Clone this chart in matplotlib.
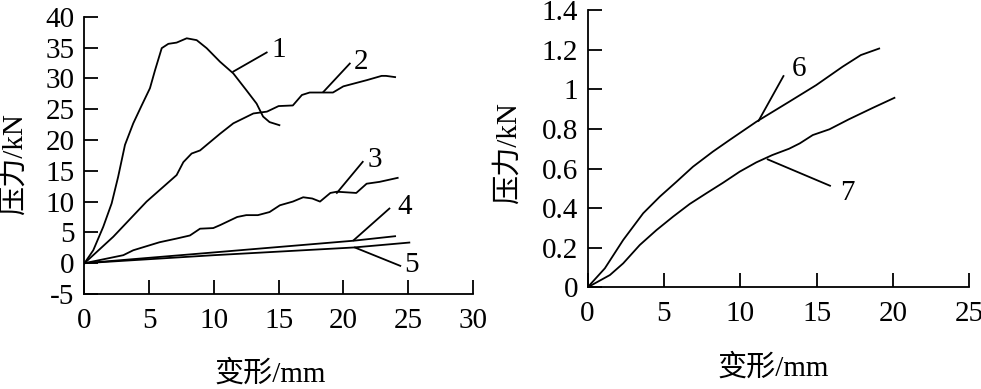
"""Two-panel load-deformation curves (压力 vs 变形)."""

import matplotlib

matplotlib.use("Agg")
import matplotlib.pyplot as plt
from matplotlib.ticker import FuncFormatter

plt.rcParams["font.family"] = ["Liberation Serif", "Noto Sans CJK SC"]
plt.rcParams["axes.unicode_minus"] = False

# --- left panel data (deformation mm, load kN) ---
c1_x = [0, 0.68, 1.45, 2.1, 2.6, 3.13, 3.77, 4.42, 5.06, 5.45, 5.97, 6.48, 7.12,
        7.9, 8.67, 9.44, 10.47, 11.5, 12.5, 13.3, 13.8, 14.3, 15.06]
c1_y = [0, 2.1, 5.9, 9.7, 14.0, 19.2, 22.7, 25.6, 28.4, 31.3, 34.9, 35.6, 35.8,
        36.5, 36.2, 34.9, 32.7, 30.8, 28.1, 25.9, 23.8, 22.9, 22.4]
c2_x = [0, 2.23, 4.8, 7.12, 7.64, 8.28, 8.93, 10.47, 11.5, 13.05, 14.1, 15.0,
        16.1, 16.8, 17.4, 19.2, 20.0, 21.8, 22.96, 23.3, 24.0]
c2_y = [0, 4.3, 10.0, 14.3, 16.4, 17.8, 18.3, 21.0, 22.7, 24.3, 24.6, 25.5,
        25.6, 27.3, 27.7, 27.7, 28.7, 29.7, 30.4, 30.4, 30.2]
c3_x = [0, 3.0, 3.77, 4.8, 5.8, 7.12, 8.15, 8.93, 9.95, 10.5, 11.8, 12.5, 13.4,
        14.3, 15.1, 16.1, 16.9, 17.6, 18.2, 19.0, 19.5, 21.0, 21.8, 22.8, 24.2]
c3_y = [0, 1.3, 2.1, 2.76, 3.4, 4.0, 4.5, 5.6, 5.7, 6.2, 7.5, 7.8, 7.8,
        8.3, 9.4, 10.0, 10.7, 10.5, 10.0, 11.4, 11.6, 11.4, 12.9, 13.2, 13.85]
c4_x = [0, 10.0, 20.8, 24.0]
c4_y = [0, 1.75, 3.65, 4.38]
c5_x = [0, 10.0, 20.8, 25.1]
c5_y = [0, 1.3, 2.55, 3.35]

left_labels = ["1", "2", "3", "4", "5"]
left_text_xy = [(14.98, 34.6), (21.4, 32.7), (22.46, 16.8), (24.76, 9.04), (25.3, -0.3)]
left_leader = [((11.5, 31.1), (14.08, 34.2)), ((18.46, 27.8), (20.5, 32.4)),
               ((19.5, 11.4), (21.5, 16.45)), ((20.8, 3.73), (23.56, 8.87)),
               ((20.9, 2.54), (24.4, -0.43))]

# --- right panel data ---
c6_x = [0, 1.13, 2.33, 3.64, 4.73, 5.82, 6.9, 8.2, 9.3, 11.05, 13.2, 14.97, 16.7,
        17.9, 19.1]
c6_y = [0, 0.096, 0.239, 0.374, 0.458, 0.533, 0.609, 0.685, 0.744, 0.836, 0.937,
        1.021, 1.114, 1.173, 1.206]
c7_x = [0, 1.46, 2.33, 3.42, 4.51, 5.6, 6.69, 7.78, 8.87, 9.96, 11.05, 12.1, 13.2,
        13.9, 14.75, 15.84, 17.1, 18.7, 20.1]
c7_y = [0, 0.062, 0.121, 0.214, 0.289, 0.357, 0.421, 0.475, 0.528, 0.584, 0.631,
        0.668, 0.70, 0.727, 0.769, 0.798, 0.848, 0.907, 0.957]

right_labels = ["6", "7"]
right_text_xy = [(13.88, 1.105), (17.04, 0.474)]
right_leader = [((11.2, 0.841), (12.83, 1.067)), ((11.8, 0.646), (15.88, 0.513))]

LW = 1.3
FS = 21


def style(ax):
    for s in ("top", "right"):
        ax.spines[s].set_visible(False)
    for s in ("left", "bottom"):
        ax.spines[s].set_linewidth(LW)
    ax.tick_params(direction="in", length=10, width=LW, labelsize=FS)
    ax.tick_params(axis="x", pad=10)
    ax.tick_params(axis="y", pad=7)


fig = plt.figure(figsize=(9.81, 3.89), dpi=100)

ax1 = fig.add_axes([0.0861, 0.2442, 0.3958, 0.7128])
for xs, ys in [(c1_x, c1_y), (c2_x, c2_y), (c3_x, c3_y), (c4_x, c4_y), (c5_x, c5_y)]:
    ax1.plot(xs, ys, color="black", lw=LW)
for lab, (tx, ty), (p0, p1) in zip(left_labels, left_text_xy, left_leader):
    ax1.plot([p0[0], p1[0]], [p0[1], p1[1]], color="black", lw=LW)
    ax1.text(tx, ty, lab, fontsize=FS, ha="center", va="center")
ax1.set_xlim(0, 30)
ax1.set_ylim(-5, 40)
ax1.set_xticks(range(0, 31, 5))
ax1.set_yticks(range(-5, 41, 5))
style(ax1)

ax2 = fig.add_axes([0.599, 0.2614, 0.389, 0.7126])
for xs, ys in [(c6_x, c6_y), (c7_x, c7_y)]:
    ax2.plot(xs, ys, color="black", lw=LW)
for lab, (tx, ty), (p0, p1) in zip(right_labels, right_text_xy, right_leader):
    ax2.plot([p0[0], p1[0]], [p0[1], p1[1]], color="black", lw=LW)
    ax2.text(tx, ty, lab, fontsize=FS, ha="center", va="center")
ax2.set_xlim(0, 25)
ax2.set_ylim(0, 1.4)
ax2.set_xticks(range(0, 26, 5))
ax2.set_yticks([0, 0.2, 0.4, 0.6, 0.8, 1.0, 1.2, 1.4])
ax2.yaxis.set_major_formatter(FuncFormatter(lambda v, p: f"{v:g}"))
style(ax2)

# axis titles
fig.text(14 / 981, 1 - 164 / 389, "压力/kN", rotation=90, fontsize=FS,
         ha="center", va="center")
fig.text(270 / 981, 1 - 374 / 389, "变形/mm", fontsize=FS, ha="center", va="center")
fig.text(508 / 981, 1 - 153 / 389, "压力/kN", rotation=90, fontsize=FS,
         ha="center", va="center")
fig.text(773 / 981, 1 - 368 / 389, "变形/mm", fontsize=FS, ha="center", va="center")

fig.savefig("out.png", dpi=100)
plt.close(fig)
